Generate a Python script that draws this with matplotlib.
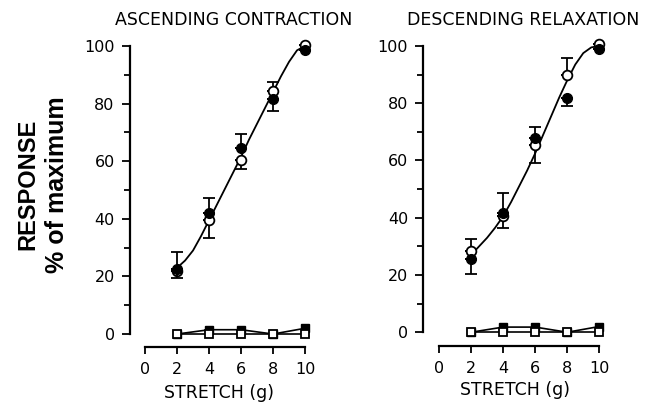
import matplotlib
matplotlib.use("Agg")
from matplotlib import pyplot as plt
from matplotlib.ticker import MultipleLocator

nan = float("nan")
stretch = [2, 4, 6, 8, 10]

# ascending contraction (error bars as [below, above], nan = not visible)
asc_filled = [22.5, 42, 64.5, 81.5, 98.5]
asc_filled_lo = [3.2, nan, nan, 4, nan]
asc_filled_hi = [6, 5.3, 5, nan, nan]
asc_open = [22, 39.5, 60.4, 84.5, 100.5]
asc_open_lo = [nan, 6, 3, nan, nan]
asc_open_hi = [nan, nan, nan, 3, nan]
asc_sq_filled = [0, 1.5, 1.5, 0, 2]
asc_sq_open = [0, 0, 0, 0, 0]
asc_curve_x = [2, 2.5, 3, 3.5, 4, 4.5, 5, 5.5, 6, 6.5, 7, 7.5, 8, 8.5, 9, 9.5, 10]
asc_curve_y = [23, 25.5, 29, 34, 39.5, 45, 50.5, 56, 61.5, 67.5, 73, 78.5, 84, 89.5, 94.5, 98.5, 100]

# descending relaxation
desc_filled = [25.5, 41.5, 67.7, 81.9, 99]
desc_filled_lo = [5, nan, nan, 3, nan]
desc_filled_hi = [nan, 7, 4, nan, nan]
desc_open = [28.4, 40.5, 65.4, 89.9, 100.8]
desc_open_lo = [nan, 4, 6.4, nan, nan]
desc_open_hi = [4, nan, nan, 6, nan]
desc_sq_filled = [0, 1.8, 1.8, 0, 2]
desc_sq_open = [0, 0, 0, 0, 0]
desc_curve_x = [2, 2.5, 3, 3.5, 4, 4.5, 5, 5.5, 6, 6.5, 7, 7.5, 8, 8.5, 9, 9.5, 10]
desc_curve_y = [27, 30, 33, 36.5, 40.5, 45.5, 51, 56.5, 62.5, 69, 75.5, 82, 88, 93.5, 97.5, 99.5, 100]

W, H = 646, 404
fig = plt.figure(figsize=(W / 100, H / 100), dpi=100)

panels = [
    dict(box=(130, 311.4, 347, 34.5), ylo=-4.5, xlo=-0.94, title="ASCENDING CONTRACTION", tx=234, ty=20,
         sx=219, sy=393, filled=asc_filled, flo=asc_filled_lo, fhi=asc_filled_hi,
         opn=asc_open, olo=asc_open_lo, ohi=asc_open_hi,
         sqf=asc_sq_filled, sqo=asc_sq_open, cx=asc_curve_x, cy=asc_curve_y),
    dict(box=(423.3, 605.7, 345.7, 34.5), ylo=-4.7, xlo=-0.98, title="DESCENDING RELAXATION", tx=523, ty=20,
         sx=515, sy=390, filled=desc_filled, flo=desc_filled_lo, fhi=desc_filled_hi,
         opn=desc_open, olo=desc_open_lo, ohi=desc_open_hi,
         sqf=desc_sq_filled, sqo=desc_sq_open, cx=desc_curve_x, cy=desc_curve_y),
]


def bars(ax, y, lo, hi, z):
    # one errorbar call per direction so hidden halves are simply skipped
    zeros = [0] * len(y)
    ax.errorbar(stretch, y, yerr=[lo, zeros], fmt="none", ecolor="black",
                elinewidth=1.3, capsize=4.5, capthick=1.3, zorder=z)
    ax.errorbar(stretch, y, yerr=[zeros, hi], fmt="none", ecolor="black",
                elinewidth=1.3, capsize=4.5, capthick=1.3, zorder=z)


for p in panels:
    l, r, b, t = p["box"]
    ax = fig.add_axes([l / W, 1 - b / H, (r - l) / W, (b - t) / H])
    ax.set_xlim(p["xlo"], 10.4)
    ax.set_ylim(p["ylo"], 104)

    ax.plot(p["cx"], p["cy"], color="black", lw=1.3, zorder=2)
    ax.plot(stretch, p["sqf"], color="black", lw=1.2, marker="s", ms=6,
            mfc="black", mec="black", zorder=3)
    ax.plot(stretch, p["sqo"], color="black", lw=1.2, marker="s", ms=6,
            mfc="white", mec="black", mew=1.3, zorder=4)
    bars(ax, p["opn"], p["olo"], p["ohi"], 4.5)
    ax.plot(stretch, p["opn"], "o", ms=7, mfc="white", mec="black", mew=1.3, zorder=5)
    bars(ax, p["filled"], p["flo"], p["fhi"], 5.5)
    ax.plot(stretch, p["filled"], "o", ms=7, mfc="black", mec="black", zorder=6)

    for s in ["top", "right"]:
        ax.spines[s].set_visible(False)
    ax.spines["left"].set_bounds(0, 100)
    ax.spines["bottom"].set_bounds(0, 10)
    ax.spines["left"].set_linewidth(1.6)
    ax.spines["bottom"].set_linewidth(1.6)

    ax.set_yticks([0, 20, 40, 60, 80, 100])
    ax.yaxis.set_minor_locator(MultipleLocator(10))
    ax.set_xticks([0, 2, 4, 6, 8, 10])
    ax.tick_params(axis="y", which="major", length=6, width=1.3, pad=5, labelsize=11.5)
    ax.tick_params(axis="y", which="minor", length=4, width=1.3)
    ax.tick_params(axis="x", which="major", length=5, width=1.3, pad=6, labelsize=11.5)

    fig.text(p["tx"] / W, 1 - p["ty"] / H, p["title"], ha="center", va="center", fontsize=12.5)
    fig.text(p["sx"] / W, 1 - p["sy"] / H, "STRETCH (g)", ha="center", va="center", fontsize=12.5)

fig.text(28 / W, 1 - 184 / H, "RESPONSE", rotation=90, ha="center", va="center",
         fontsize=17, fontweight="bold", family="Liberation Sans")
fig.text(57 / W, 1 - 185 / H, "% of maximum", rotation=90, ha="center", va="center",
         fontsize=18, fontweight="bold", family="Liberation Sans")

fig.savefig("out.png", dpi=100)
